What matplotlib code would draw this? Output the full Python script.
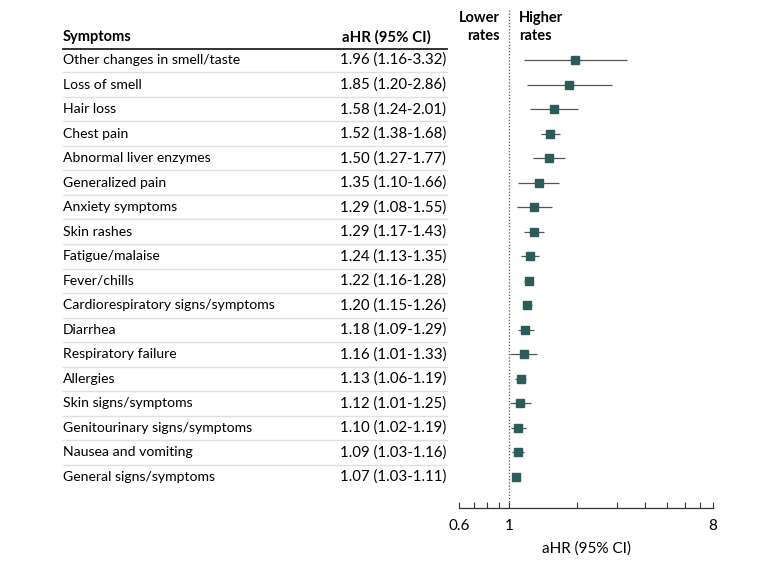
import matplotlib
matplotlib.use("Agg")
import matplotlib.pyplot as plt
import matplotlib.transforms as mtransforms
from matplotlib.ticker import FixedLocator, NullFormatter, FixedFormatter

plt.rcParams['font.family'] = ['Lato', 'DejaVu Sans']

symptoms = ["Other changes in smell/taste", "Loss of smell", "Hair loss", "Chest pain",
            "Abnormal liver enzymes", "Generalized pain", "Anxiety symptoms", "Skin rashes",
            "Fatigue/malaise", "Fever/chills", "Cardiorespiratory signs/symptoms", "Diarrhea",
            "Respiratory failure", "Allergies", "Skin signs/symptoms",
            "Genitourinary signs/symptoms", "Nausea and vomiting", "General signs/symptoms"]
ahr = [1.96, 1.85, 1.58, 1.52, 1.50, 1.35, 1.29, 1.29, 1.24, 1.22, 1.20, 1.18, 1.16, 1.13,
       1.12, 1.10, 1.09, 1.07]
lo = [1.16, 1.20, 1.24, 1.38, 1.27, 1.10, 1.08, 1.17, 1.13, 1.16, 1.15, 1.09, 1.01, 1.06,
      1.01, 1.02, 1.03, 1.03]
hi = [3.32, 2.86, 2.01, 1.68, 1.77, 1.66, 1.55, 1.43, 1.35, 1.28, 1.26, 1.29, 1.33, 1.19,
      1.25, 1.19, 1.16, 1.11]
major_ticks = [0.6, 1, 8]
major_labels = ['0.6', '1', '8']
minor_ticks = [0.7, 0.8, 0.9, 2, 3, 4, 5, 6, 7]

W, H = 780, 562
fig = plt.figure(figsize=(7.8, 5.62), dpi=100)

ax_left, ax_right = 459, 713
ax_bottom, ax_top = 508, 36
ax = fig.add_axes([ax_left / W, 1 - ax_bottom / H, (ax_right - ax_left) / W, (ax_bottom - ax_top) / H])

n = len(symptoms)
row0, rowN = 60, 477
sp = (rowN - row0) / (n - 1)
ax.set_ylim((n - 1) + (ax_bottom - rowN) / sp, -(row0 - ax_top) / sp)
ax.set_xscale('log')
ax.set_xlim(0.6, 8)

color = '#2b5c5a'
ys = list(range(n))
xerr = [[a - l for a, l in zip(ahr, lo)], [h - a for a, h in zip(ahr, hi)]]
ax.errorbar(ahr, ys, xerr=xerr, fmt='s', color=color, ecolor='#555555', elinewidth=0.9,
            markersize=5.3, capsize=0, zorder=3)

# reference line
ytop_line = -(row0 - 10) / sp
ax.plot([1, 1], [ax.get_ylim()[0], ytop_line], linestyle=(0, (1, 1.5)), color='#555555',
        linewidth=0.9, clip_on=False, zorder=1)

for s in ['top', 'right', 'left']:
    ax.spines[s].set_visible(False)
ax.spines['bottom'].set_color('#333333')
ax.spines['bottom'].set_linewidth(0.9)
ax.set_yticks([])
ax.xaxis.set_major_locator(FixedLocator(major_ticks))
ax.xaxis.set_major_formatter(FixedFormatter(major_labels))
ax.xaxis.set_minor_locator(FixedLocator(minor_ticks))
ax.xaxis.set_minor_formatter(NullFormatter())
ax.tick_params(axis='x', which='both', direction='in', length=4, width=0.8, color='#333333',
               labelsize=11, pad=8)
ax.set_xlabel('aHR (95% CI)', fontsize=11, labelpad=6)

# Lower/Higher rates
y_lh = -(row0 - 27) / sp
ax.text(0.912, y_lh, 'Lower\nrates', ha='right', va='center', fontsize=10.5,
        fontweight='bold', linespacing=1.3, clip_on=False)
ax.text(1.106, y_lh, 'Higher\nrates', ha='left', va='center', fontsize=10.5,
        fontweight='bold', linespacing=1.3, clip_on=False)

tr = mtransforms.blended_transform_factory(fig.transFigure, ax.transData)
x_name = 63 / W
x_val = 446 / W
x_line_end = 447 / W
for i, (s, a, l, h) in enumerate(zip(symptoms, ahr, lo, hi)):
    ax.text(x_name, i, s, transform=tr, ha='left', va='center', fontsize=10.1, clip_on=False)
    ax.text(x_val, i, f"{a:.2f} ({l:.2f}-{h:.2f})", transform=tr, ha='right', va='center',
            fontsize=10.8, clip_on=False)
    if i < n - 1:
        ax.plot([x_name, x_line_end], [i + 0.5, i + 0.5], transform=tr, color='#e0e0da',
                linewidth=1.0, clip_on=False)

y_head = -(row0 - 37) / sp
ax.text(x_name, y_head, 'Symptoms', transform=tr, ha='left', va='center', fontsize=10.5,
        fontweight='bold', clip_on=False)
ax.text(342 / W, y_head, 'aHR (95% CI)', transform=tr, ha='left', va='center', fontsize=10.8,
        fontweight='bold', clip_on=False)
y_hl = -(row0 - 48.5) / sp
ax.plot([x_name, x_line_end], [y_hl, y_hl], transform=tr, color='#222222', linewidth=1.3,
        clip_on=False)

fig.savefig('out.png', dpi=100)
